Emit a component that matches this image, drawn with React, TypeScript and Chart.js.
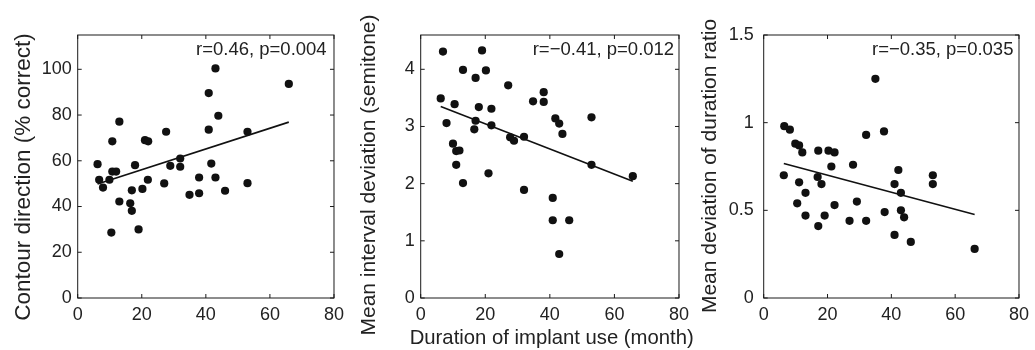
import React, { useEffect, useRef } from "react";
import { Chart, registerables } from "chart.js";

Chart.register(...registerables);

// ---------- data ----------
const xTicks = [0, 20, 40, 60, 80];
const xTickLabels = ["0", "20", "40", "60", "80"];

const contourMonths = [6.2, 6.7, 7.9, 9.9, 10.8, 10.8, 12.0, 13.0, 13.0, 10.5, 16.4, 16.9, 16.9, 17.9, 19.0, 20.2, 21.0, 22.0, 21.9, 27.0, 27.6, 28.9, 32.0, 32.0, 34.9, 37.9, 37.9, 40.9, 40.9, 41.7, 43.0, 43.9, 43.0, 46.0, 53.0, 53.0, 65.9];
const contourValues = [58.5, 51.7, 48.3, 51.7, 68.5, 55.3, 55.3, 77.1, 42.2, 28.6, 41.4, 47.1, 38.1, 58.1, 30.0, 47.7, 69.0, 68.5, 51.7, 50.1, 72.7, 57.8, 61.0, 57.4, 45.1, 45.8, 52.7, 89.6, 73.6, 58.8, 100.4, 79.7, 52.7, 46.9, 72.7, 50.2, 93.6];
const contourFitX = [6.2, 65.9];
const contourFitY = [49.8, 76.9];
const contourYTicks = [0, 20, 40, 60, 80, 100];
const contourYTickLabels = ["0", "20", "40", "60", "80", "100"];

const intervalMonths = [6.9, 6.2, 10.5, 8.0, 10.0, 11.0, 12.0, 11.0, 13.1, 13.1, 19.0, 17.0, 20.2, 18.0, 17.0, 16.6, 21.9, 21.9, 21.0, 27.1, 27.7, 28.9, 32.0, 32.0, 34.8, 38.1, 38.1, 41.7, 42.9, 43.9, 40.9, 40.9, 46.0, 42.9, 52.9, 52.9, 65.7];
const intervalValues = [4.31, 3.49, 3.39, 3.06, 2.70, 2.57, 2.58, 2.33, 2.01, 3.99, 4.33, 3.85, 3.98, 3.34, 3.10, 2.95, 3.31, 3.02, 2.18, 3.72, 2.81, 2.75, 2.82, 1.89, 3.44, 3.60, 3.43, 3.14, 3.05, 2.87, 1.75, 1.36, 1.36, 0.77, 3.16, 2.33, 2.13];
const intervalFitX = [6.2, 65.7];
const intervalFitY = [3.35, 2.04];
const intervalYTicks = [0, 1, 2, 3, 4];
const intervalYTickLabels = ["0", "1", "2", "3", "4"];

const durationMonths = [6.45, 8.2, 6.3, 9.9, 11.1, 12.1, 11.1, 13.1, 10.5, 13.1, 17.1, 16.9, 18.1, 17.1, 19.1, 20.3, 22.2, 21.2, 22.2, 26.9, 28.0, 29.2, 32.1, 32.1, 35.0, 37.7, 37.9, 42.2, 41.0, 43.0, 43.0, 44.0, 41.0, 46.1, 53.0, 53.0, 66.1];
const durationValues = [0.98, 0.96, 0.70, 0.88, 0.87, 0.83, 0.66, 0.60, 0.54, 0.47, 0.84, 0.69, 0.65, 0.41, 0.47, 0.84, 0.83, 0.75, 0.53, 0.44, 0.76, 0.55, 0.93, 0.44, 1.25, 0.95, 0.49, 0.73, 0.65, 0.60, 0.50, 0.46, 0.36, 0.32, 0.70, 0.65, 0.28];
const durationFitX = [6.3, 66.1];
const durationFitY = [0.767, 0.476];
const durationYTicks = [0, 0.5, 1, 1.5];
const durationYTickLabels = ["0", "0.5", "1", "1.5"];

const yTitles = ["Contour direction (% correct)", "Mean interval deviation (semitone)", "Mean deviation of duration ratio"];
const xTitle = "Duration of implant use (month)";
const statLabels = ["r=0.46, p=0.004", "r=\u22120.41, p=0.012", "r=\u22120.35, p=0.035"];

// ---------- styles / layout ----------
const FONT = '"Liberation Sans", Arial, Helvetica, sans-serif';
const INK = "#1a1a1a";
const TEXT = "#222";
const AREA_TOP = 35;
const AREA_BOTTOM = 298;
const H = 350;
const TICK_SIZE = 18;
const STAT_SIZE = 18.5;
const X_TITLE_SIZE = 20.3;

type PanelCfg = {
  xs: number[]; ys: number[]; fitX: number[]; fitY: number[];
  yMax: number; yTicks: number[]; yTickLabels: string[];
  yTitle: string; xTitle: string; stat: string;
  canvasLeft: number; canvasWidth: number; areaLeft: number; areaRight: number;
  yTitleX: number; yTitleY: number; yTitleSize: number;
  xTitleX: number; xTitleY: number;
  yTickPad: number; statX: number;
};

const panels: PanelCfg[] = [
  {
    xs: contourMonths, ys: contourValues, fitX: contourFitX, fitY: contourFitY,
    yMax: 115, yTicks: contourYTicks, yTickLabels: contourYTickLabels,
    yTitle: yTitles[0], xTitle: "", stat: statLabels[0],
    canvasLeft: 0, canvasWidth: 350, areaLeft: 77.7, areaRight: 337.7,
    yTitleX: 23.3, yTitleY: 177, yTitleSize: 22.5, xTitleX: 0, xTitleY: 0,
    yTickPad: 6, statX: 196,
  },
  {
    xs: intervalMonths, ys: intervalValues, fitX: intervalFitX, fitY: intervalFitY,
    yMax: 4.6, yTicks: intervalYTicks, yTickLabels: intervalYTickLabels,
    yTitle: yTitles[1], xTitle: xTitle, stat: statLabels[1],
    canvasLeft: 345, canvasWidth: 350, areaLeft: 420.7 - 345, areaRight: 681.7 - 345,
    yTitleX: 369.3 - 345, yTitleY: 175, yTitleSize: 21, xTitleX: 551.7 - 345, xTitleY: 338,
    yTickPad: 6, statX: 532.7 - 345,
  },
  {
    xs: durationMonths, ys: durationValues, fitX: durationFitX, fitY: durationFitY,
    yMax: 1.5, yTicks: durationYTicks, yTickLabels: durationYTickLabels,
    yTitle: yTitles[2], xTitle: "", stat: statLabels[2],
    canvasLeft: 690, canvasWidth: 345, areaLeft: 763.7 - 690, areaRight: 1024 - 690,
    yTitleX: 710 - 690, yTitleY: 166, yTitleSize: 21, xTitleX: 0, xTitleY: 0,
    yTickPad: 10, statX: 872 - 690,
  },
];

function Panel({ cfg }: { cfg: PanelCfg }) {
  const ref = useRef<HTMLCanvasElement>(null);
  useEffect(() => {
    const canvas = ref.current;
    if (!canvas) return;
    const tickFont = { family: FONT, size: TICK_SIZE };

    const framePlugin = {
      id: "frame",
      afterDraw(chart: any) {
        const { ctx, chartArea: a, scales } = chart;
        ctx.save();
        ctx.strokeStyle = INK;
        ctx.lineWidth = 1;
        ctx.strokeRect(a.left, a.top, a.right - a.left, a.bottom - a.top);
        const tl = 4;
        ctx.beginPath();
        for (const v of xTicks) {
          const px = scales.x.getPixelForValue(v);
          ctx.moveTo(px, a.bottom); ctx.lineTo(px, a.bottom - tl);
          ctx.moveTo(px, a.top); ctx.lineTo(px, a.top + tl);
        }
        for (const v of cfg.yTicks) {
          const py = scales.y.getPixelForValue(v);
          ctx.moveTo(a.left, py); ctx.lineTo(a.left + tl, py);
          ctx.moveTo(a.right, py); ctx.lineTo(a.right - tl, py);
        }
        ctx.stroke();

        ctx.fillStyle = TEXT;
        ctx.textBaseline = "middle";

        // correlation annotation
        ctx.font = `${STAT_SIZE}px ${FONT}`;
        ctx.textAlign = "left";
        ctx.fillText(cfg.stat, cfg.statX, 50);

        // axis titles (drawn without width compression)
        ctx.textAlign = "center";
        if (cfg.xTitle) {
          ctx.font = `${X_TITLE_SIZE}px ${FONT}`;
          ctx.fillText(cfg.xTitle, cfg.xTitleX, cfg.xTitleY);
        }
        ctx.save();
        ctx.translate(cfg.yTitleX, cfg.yTitleY);
        ctx.rotate(-Math.PI / 2);
        ctx.font = `${cfg.yTitleSize}px ${FONT}`;
        ctx.fillText(cfg.yTitle, 0, 0);
        ctx.restore();

        ctx.restore();
      },
    };

    const chart = new Chart(canvas, {
      type: "scatter",
      data: {
        datasets: [
          {
            data: cfg.xs.map((x, i) => ({ x, y: cfg.ys[i] })),
            pointRadius: 4.1,
            pointHoverRadius: 4.1,
            backgroundColor: "#111",
            borderColor: "#111",
            borderWidth: 0,
            order: 1,
          },
          {
            data: cfg.fitX.map((x, i) => ({ x, y: cfg.fitY[i] })),
            showLine: true,
            pointRadius: 0,
            borderColor: "#111",
            borderWidth: 1.6,
            order: 2,
          } as any,
        ],
      },
      options: {
        animation: false,
        responsive: false,
        events: [],
        layout: {
          padding: { left: 0, right: cfg.canvasWidth - cfg.areaRight, top: AREA_TOP, bottom: 0 },
        },
        plugins: { legend: { display: false }, tooltip: { enabled: false } },
        scales: {
          x: {
            type: "linear",
            min: 0,
            max: 80,
            afterBuildTicks: (s: any) => { s.ticks = xTicks.map((v) => ({ value: v })); },
            afterFit: (s: any) => { s.height = H - AREA_BOTTOM; },
            grid: { display: false, drawTicks: false },
            border: { display: false },
            ticks: {
              font: tickFont, color: TEXT, padding: 6, maxRotation: 0, autoSkip: false,
              callback: (_v: any, i: number) => xTickLabels[i],
            },
            title: { display: false },
          },
          y: {
            type: "linear",
            min: 0,
            max: cfg.yMax,
            afterBuildTicks: (s: any) => { s.ticks = cfg.yTicks.map((v) => ({ value: v })); },
            afterFit: (s: any) => { s.width = cfg.areaLeft; },
            grid: { display: false, drawTicks: false },
            border: { display: false },
            ticks: {
              font: tickFont, color: TEXT, padding: cfg.yTickPad, autoSkip: false,
              callback: (_v: any, i: number) => cfg.yTickLabels[i],
            },
            title: { display: false },
          },
        },
      } as any,
      plugins: [framePlugin],
    });
    return () => chart.destroy();
  }, [cfg]);

  return (
    <canvas
      ref={ref}
      width={cfg.canvasWidth}
      height={H}
      style={{ position: "absolute", left: cfg.canvasLeft, top: 0, width: cfg.canvasWidth, height: H }}
    />
  );
}

export default function App() {
  return (
    <div style={{ position: "absolute", left: 0, top: 0, width: 1035, height: H, background: "#fff", overflow: "hidden" }}>
      {panels.map((p, i) => (
        <Panel key={i} cfg={p} />
      ))}
    </div>
  );
}
